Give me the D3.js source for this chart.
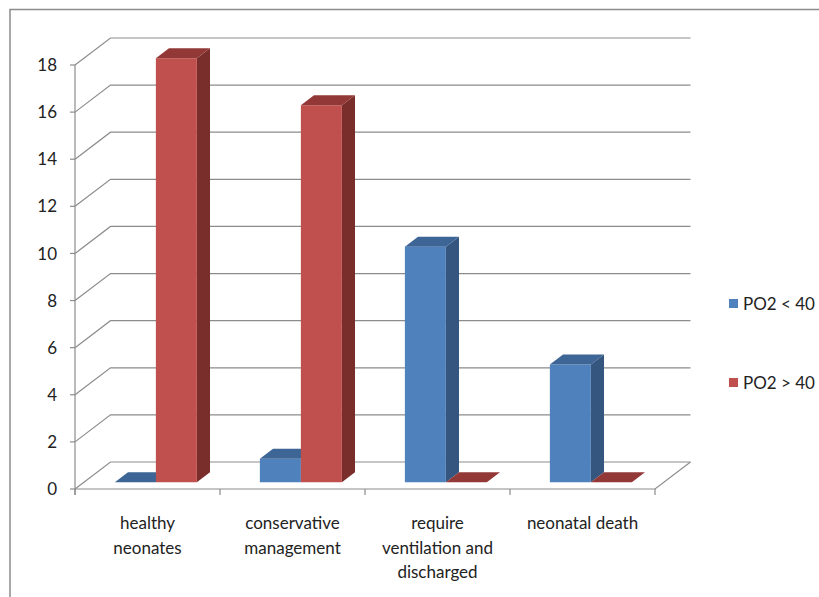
<!DOCTYPE html>
<html><head><meta charset="utf-8">
<script src="https://cdn.jsdelivr.net/npm/d3@7"></script>
<style>body{margin:0;background:#fff}svg{display:block}text{font-family:Lato,"Open Sans",sans-serif;fill:#222}</style>
</head><body><svg id="c" width="819" height="597"></svg>
<script>
const categories = [["healthy","neonates"],["conservative","management"],["require","ventilation and","discharged"],["neonatal death"]];
const seriesNames = ["PO2 < 40","PO2 > 40"];
const po2Below40 = [0,1,10,5];
const po2Above40 = [18,16,0,0];
const yTicks = [0,2,4,6,8,10,12,14,16,18];
const colors = [{front:"#4F81BD",top:"#3D6595",side:"#34567F"},{front:"#C0504D",top:"#923836",side:"#7A2E2C"}];

const svg = d3.select("#c");
const x0 = 75, x1 = 655, yBase = 489, yTop18 = 65;
const DX = 35.5, DY = -27;
const x = d3.scaleBand().domain(d3.range(categories.length)).range([x0,x1]);
const y = d3.scaleLinear().domain([0,18]).range([yBase,yTop18]);
const proj = (px,py,z) => [px + z*DX, py + z*DY];

// frame
svg.append("path").attr("d","M10,597 V9.5 H819").attr("fill","none").attr("stroke","#8c8c8c").attr("stroke-width",1.5);

const grid = svg.append("g").attr("stroke","#8c8c8c").attr("stroke-width",1.2).attr("fill","none");
yTicks.forEach(t=>{
  const [bx,by]=proj(x0,y(t),1);
  grid.append("path").attr("d",`M${x0},${y(t)} L${bx},${by} H${x1+DX}`);
});
grid.append("path").attr("d",`M${x0},${yBase} H${x1} L${x1+DX},${yBase+DY}`);
grid.append("path").attr("d",`M${x0},${yBase+6} V${yTop18}`);
yTicks.forEach(t=>grid.append("path").attr("d",`M${x0-5},${y(t)} H${x0}`));
d3.range(categories.length+1).forEach(i=>{
  const xx = i<categories.length? x(i): x1;
  grid.append("path").attr("d",`M${xx},${yBase} V${yBase+6}`);
});

svg.append("g").selectAll("text").data(yTicks).join("text")
  .attr("x",57).attr("y",t=>y(t)).attr("dy","0.36em").attr("text-anchor","end")
  .attr("font-size",17).text(t=>t);

// bars
const barW = 41;
const zF = 0.25, zB = 0.62;
const data = categories.map((c,i)=>[po2Below40[i],po2Above40[i]]);
const bars = svg.append("g");
data.forEach((vals,i)=>{
  const cx = x(i)+x.bandwidth()/2;
  const inner = d3.scaleBand().domain([0,1]).range([cx-barW-0.5, cx+barW-0.5]);
  vals.forEach((v,s)=>{
    const L = inner(s), R = L+inner.bandwidth();
    const yt = y(v), yb = y(0);
    const fl = proj(L,yt,zF), fr = proj(R,yt,zF), bl = proj(L,yt,zB), br = proj(R,yt,zB);
    const fbr = proj(R,yb,zF), bbr = proj(R,yb,zB), fbl = proj(L,yb,zF);
    const col = colors[s];
    if (v>0){
      bars.append("polygon").attr("points",[fr,br,bbr,fbr].join(" ")).attr("fill",col.side);
      bars.append("polygon").attr("points",[fl,fr,fbr,fbl].join(" ")).attr("fill",col.front);
    }
    bars.append("polygon").attr("points",[fl,fr,br,bl].join(" ")).attr("fill",col.top);
  });
});

// category labels
const lab = svg.append("g");
categories.forEach((lines,i)=>{
  const t = lab.append("text").attr("text-anchor","middle").attr("font-size",17);
  lines.forEach((ln,k)=>t.append("tspan").attr("x",x(i)+x.bandwidth()/2).attr("y",529+k*24.5).text(ln));
});

// legend
const leg = svg.append("g");
seriesNames.forEach((n,s)=>{
  const yy = 304 + s*79;
  leg.append("rect").attr("x",729).attr("y",yy-5).attr("width",9).attr("height",9).attr("fill",colors[s].front);
  leg.append("text").attr("x",743).attr("y",yy).attr("dy","0.36em").attr("font-size",17).text(n);
});
</script></body></html>
